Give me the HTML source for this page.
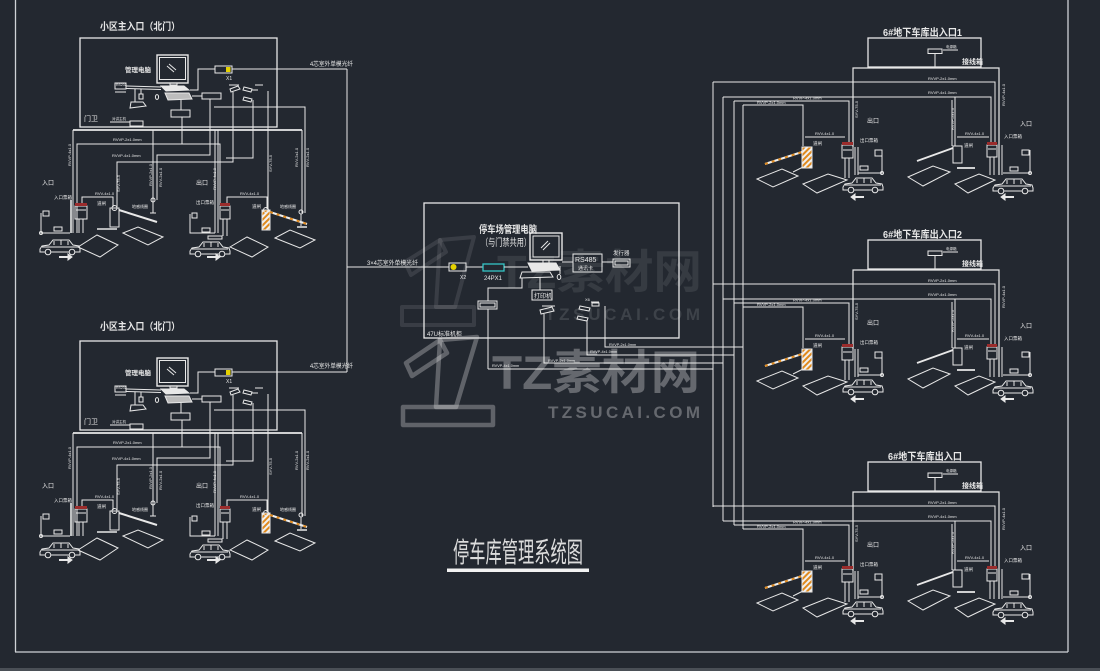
<!DOCTYPE html>
<html><head><meta charset="utf-8"><style>
html,body{margin:0;padding:0;background:#232830;width:1100px;height:671px;overflow:hidden}
svg{display:block}
text{font-family:"Liberation Sans","Noto Sans CJK SC",sans-serif;fill:#e8e8e8}
</style></head><body>
<svg width="1100" height="671" viewBox="0 0 1100 671" xmlns="http://www.w3.org/2000/svg">
<defs>
<pattern id="st" width="4" height="4" patternUnits="userSpaceOnUse" patternTransform="rotate(45)">
<rect width="4" height="4" fill="#f0f0f0"/><rect width="2" height="4" fill="#e08a1e"/>
</pattern>
<g id="car" stroke="#e8e8e8" fill="none" stroke-width="1">
<path d="M0 9 L2 6 L9 5 L13 0 L29 0 L33 5 L39 6 L40 9 L40 12 L0 12 Z"/>
<line x1="14" y1="1" x2="14" y2="5"/><line x1="21" y1="0" x2="21" y2="5"/><line x1="28" y1="1" x2="28" y2="5"/>
<line x1="2" y1="7" x2="38" y2="7"/>
<circle cx="8" cy="12" r="2.8" fill="#232830"/><circle cx="32" cy="12" r="2.8" fill="#232830"/>
</g>
<!-- left block shapes -->
<g id="LB" stroke="#e8e8e8" fill="none" stroke-width="1">
<rect x="80" y="38" width="197" height="89" stroke-width="1.3"/>
<rect x="157" y="55" width="31" height="28" stroke-width="1.4"/>
<rect x="159.5" y="57.5" width="26" height="22"/>
<line x1="167" y1="66" x2="174" y2="72"/><line x1="169" y1="64" x2="176" y2="70"/>
<rect x="170" y="83" width="7" height="2"/>
<path d="M161 86 L184 86 L189 90 L166 91 Z" fill="#e8e8e8"/>
<path d="M165 93 L189 93 L192 99 L168 100 Z" fill="#bdbdbd"/>
<line x1="126" y1="86" x2="161" y2="87"/><line x1="126" y1="88.5" x2="161" y2="89.5"/>
<rect x="115" y="83" width="11" height="6"/>
<line x1="115" y1="92" x2="126" y2="92"/>
<line x1="141" y1="89" x2="141" y2="94"/><rect x="139" y="94" width="4" height="5"/>
<path d="M131 102 L143 102 L146 106 L130 108 Z"/>
<line x1="135" y1="89" x2="135" y2="102"/>
<ellipse cx="157" cy="97" rx="1.6" ry="2.4"/>
<rect x="215" y="66" width="17" height="7"/>
<rect x="226" y="67" width="4.5" height="5" fill="#e6d200" stroke="none"/>
<polyline points="215,69 198,69 198,90 190,90"/>
<rect x="202" y="93" width="19" height="6"/>
<line x1="192" y1="96" x2="202" y2="96"/>
<rect x="171" y="110" width="19" height="7"/>
<line x1="181" y1="100" x2="181" y2="110"/>
<path d="M230 89 L238 86 L240 89 L231 92 Z"/>
<line x1="229" y1="85" x2="239" y2="85"/>
<path d="M244 87 L252 89 L251 92 L243 90 Z"/><line x1="252" y1="90" x2="258" y2="90"/>
<line x1="255" y1="85" x2="263" y2="85"/>
<path d="M244 97 L252 99 L251 102 L243 100 Z"/>
<rect x="130" y="121" width="13" height="5"/><line x1="110" y1="122" x2="130" y2="122"/>
<line x1="73" y1="130" x2="302" y2="130" stroke-width="1.8"/>
<line x1="73" y1="130" x2="73" y2="233"/>
<polyline points="77,233 77,144 220,144 220,205"/>
<line x1="182" y1="117" x2="182" y2="144"/>
<line x1="153" y1="130" x2="153" y2="213"/>
<polyline points="210,99 210,155 157,155 157,200"/>
<polyline points="117,207 117,162 233,162 233,92"/>
<line x1="215" y1="130" x2="215" y2="233"/><line x1="218" y1="130" x2="218" y2="233"/>
<polyline points="253,100 253,158 226,158"/>
<line x1="268" y1="91" x2="268" y2="210"/>
<polyline points="214,107 305,107 305,213"/>
<line x1="302" y1="130" x2="302" y2="213"/>
<polyline points="82,205 82,197 113,197 113,207"/>
<polyline points="227,205 227,197 267,197 267,209"/>
<!-- entry -->
<rect x="75" y="206" width="12" height="13"/>
<rect x="75" y="203" width="12" height="3" fill="#9b2c2c" stroke="none"/>
<line x1="76" y1="210" x2="86" y2="210"/>
<line x1="79" y1="219" x2="79" y2="233"/><line x1="83" y1="219" x2="83" y2="233"/>
<line x1="71" y1="200" x2="71" y2="233" stroke-width="1.6"/>
<rect x="43" y="211" width="6" height="5"/>
<polyline points="41,213 41,233 70,233"/>
<rect x="54" y="227" width="8" height="4"/>
<circle cx="41" cy="233" r="1.5"/>
<line x1="59" y1="257" x2="68" y2="257" stroke-width="2"/><path d="M68 254 L72 257 L68 260 Z" fill="#e8e8e8"/>
<rect x="110" y="208" width="9" height="19"/>
<circle cx="114.5" cy="208" r="2.5"/>
<line x1="119" y1="210" x2="157" y2="222" stroke-width="2"/>
<polygon points="78,247 97,235 118,245 100,257"/>
<polygon points="123,233 138,227 163,237 148,245"/>
<line x1="97" y1="229" x2="117" y2="229" stroke-width="1.5"/>
<circle cx="153" cy="200" r="2"/><line x1="150" y1="213" x2="156" y2="213"/>
<!-- exit -->
<rect x="220" y="206" width="10" height="13"/>
<rect x="220" y="203" width="10" height="3" fill="#9b2c2c" stroke="none"/>
<line x1="221" y1="210" x2="229" y2="210"/>
<line x1="223" y1="219" x2="223" y2="236"/><line x1="227" y1="219" x2="227" y2="236"/>
<rect x="262" y="210" width="8" height="20" fill="url(#st)"/>
<circle cx="266" cy="210" r="2.5"/>
<line x1="270" y1="212" x2="307" y2="224" stroke="#f0f0f0" stroke-width="2"/>
<line x1="270" y1="212" x2="307" y2="224" stroke="#e08a1e" stroke-width="2" stroke-dasharray="3 4"/>
<circle cx="301" cy="212" r="2"/><line x1="301" y1="214" x2="301" y2="226"/><line x1="297" y1="227" x2="307" y2="227" stroke-width="1.5"/>
<rect x="192" y="213" width="5" height="5"/>
<polyline points="190,214 190,233 215,233"/>
<rect x="202" y="228" width="8" height="4"/>
<line x1="207" y1="257" x2="216" y2="257" stroke-width="2"/><path d="M216 254 L220 257 L216 260 Z" fill="#e8e8e8"/>
<polygon points="230,247 247,237 268,247 252,257"/>
<polygon points="275,238 290,230 315,240 300,248"/>
<rect x="208" y="236" width="14" height="3"/>
</g>
<!-- right block shapes -->
<g id="RB" stroke="#e8e8e8" fill="none" stroke-width="1">
<rect x="868" y="38" width="113" height="29" stroke-width="1.3"/>
<rect x="928" y="49" width="14" height="4.5"/>
<line x1="943" y1="50" x2="958" y2="50"/>
<line x1="935" y1="53.5" x2="935" y2="67"/>
<polyline points="853,147 853,68 999,68 999,175" stroke-width="1.2"/>
<polyline points="713,82 995,82 995,142"/>
<polyline points="723,97 991,97 991,142"/>
<line x1="955" y1="97" x2="955" y2="146"/>
<line x1="952" y1="100" x2="952" y2="146"/>
<polyline points="734,101 849,101 849,142"/>
<polyline points="743,105 803,105 803,146"/>
<line x1="805" y1="137" x2="845" y2="137"/>
<line x1="957" y1="137" x2="989" y2="137"/>
<!-- exit -->
<rect x="802" y="147" width="10" height="21" fill="url(#st)"/>
<line x1="765" y1="164" x2="802" y2="152" stroke="#f0f0f0" stroke-width="2"/>
<line x1="765" y1="164" x2="802" y2="152" stroke="#e08a1e" stroke-width="2" stroke-dasharray="3 4"/>
<polygon points="757,179 782,169 798,176 773,187"/>
<polygon points="803,184 828,174 847,180 817,193"/>
<line x1="793" y1="172" x2="803" y2="167"/>
<rect x="842" y="145" width="11" height="13"/>
<rect x="842" y="142" width="11" height="3" fill="#9b2c2c" stroke="none"/>
<line x1="843" y1="150" x2="852" y2="150"/>
<line x1="845" y1="158" x2="845" y2="178"/><line x1="849" y1="158" x2="849" y2="178"/>
<line x1="855" y1="147" x2="855" y2="175"/><line x1="858" y1="147" x2="858" y2="175"/>
<rect x="875" y="150" width="7" height="6"/>
<polyline points="882,150 882,173 858,173"/>
<circle cx="882" cy="173" r="1.5"/>
<rect x="860" y="166" width="8" height="4"/>
<line x1="855" y1="197" x2="864" y2="197" stroke-width="2"/><path d="M855 194 L851 197 L855 200 Z" fill="#e8e8e8"/>
<!-- entry -->
<rect x="953" y="146" width="9" height="17"/>
<line x1="917" y1="161" x2="953" y2="148" stroke-width="1.8"/>
<line x1="957" y1="168" x2="975" y2="168" stroke-width="1.8"/>
<polygon points="908,177 933,166 950,172 923,186"/>
<polygon points="955,184 979,174 995,180 968,193"/>
<rect x="987" y="145" width="10" height="12"/>
<rect x="987" y="142" width="10" height="3" fill="#9b2c2c" stroke="none"/>
<line x1="988" y1="149" x2="996" y2="149"/>
<line x1="990" y1="157" x2="990" y2="175"/><line x1="994" y1="157" x2="994" y2="175"/>
<line x1="1002" y1="145" x2="1002" y2="175"/>
<rect x="1022" y="150" width="7" height="5"/>
<polyline points="1030,150 1030,173 1003,173"/>
<circle cx="1030" cy="173" r="1.5"/>
<rect x="1010" y="167" width="8" height="4"/>
<line x1="1005" y1="197" x2="1014" y2="197" stroke-width="2"/><path d="M1005 194 L1001 197 L1005 200 Z" fill="#e8e8e8"/>
</g>
</defs>

<!-- frame -->
<g stroke="#cfd2d6" fill="none" stroke-width="1.3">
<line x1="15.5" y1="0" x2="15.5" y2="652"/>
<line x1="15" y1="652" x2="1068" y2="652"/>
<line x1="1068" y1="0" x2="1068" y2="652"/>
</g>
<rect x="0" y="668" width="1100" height="3" fill="#4a4f56"/>

<!-- watermark -->
<g fill="none" stroke="#ffffff" stroke-opacity="0.1" stroke-width="4" stroke-linejoin="round">
<rect x="402" y="307" width="72" height="18"/>
<polygon points="440,240 474,237 455,307 436,307"/>
<polygon points="405,262 440,240 446,252 411,275"/>
</g>
<g fill="none" stroke="#ffffff" stroke-opacity="0.28" stroke-width="4.5" stroke-linejoin="round">
<rect x="403" y="407" width="90" height="18"/>
<polygon points="440,340 477,337 456,407 436,407"/>
<polygon points="406,363 440,340 447,353 412,376"/>
</g>
<text x="497" y="288" font-size="46" font-weight="bold" textLength="205" lengthAdjust="spacingAndGlyphs" style="fill:rgba(255,255,255,0.09)">TZ素材网</text>
<text x="545" y="320" font-size="17" font-weight="bold" textLength="155" lengthAdjust="spacing" style="fill:rgba(255,255,255,0.12)">TZSUCAI.COM</text>

<!-- left blocks -->
<use href="#LB"/>
<use href="#LB" y="303"/>
<g stroke="#e8e8e8" fill="none" stroke-width="1">
<line x1="232" y1="69" x2="347" y2="69"/>
<line x1="232" y1="372" x2="347" y2="372"/>
<line x1="347" y1="69" x2="347" y2="372"/>
<line x1="347" y1="267" x2="449" y2="267"/>
</g>

<!-- left block texts -->
<g id="LT1">
<text x="100" y="30" font-size="10" font-weight="bold" textLength="80" lengthAdjust="spacingAndGlyphs">小区主入口（北门）</text>
<text x="125" y="72" font-size="6.5" font-weight="bold">管理电脑</text>
<text x="226" y="80" font-size="5">X1</text>
<text x="84" y="121" font-size="7">门卫</text>
<text x="42" y="185" font-size="6">入口</text>
<text x="54" y="199" font-size="4.5">入口票箱</text>
<text x="97" y="205" font-size="4.5">道闸</text>
<text x="196" y="185" font-size="6">出口</text>
<text x="196" y="204" font-size="4.5">出口票箱</text>
<text x="252" y="208" font-size="4.5">道闸</text>
<text x="132" y="208" font-size="4">地感线圈</text>
<text x="280" y="208" font-size="4">地感线圈</text>
<text x="113" y="141" font-size="4">RVVP-2x1.0mm</text>
<text x="112" y="157" font-size="4">RVVP-4x1.0mm</text>
<text x="95" y="195" font-size="4">RVV-4x1.0</text>
<text x="240" y="195" font-size="4">RVV-4x1.0</text>
<text x="116" y="86" font-size="3.5">RS232</text>
<text x="112" y="120" font-size="3.5">对讲主机</text>
<g font-size="4">
<text transform="translate(71,166) rotate(-90)">RVVP-4x1.0</text>
<text transform="translate(120,192) rotate(-90)">SYV-75-5</text>
<text transform="translate(152,186) rotate(-90)">RVVP-2x1.0</text>
<text transform="translate(162,187) rotate(-90)">RVV-2x1.0</text>
<text transform="translate(216,190) rotate(-90)">RVVP-4x1.0</text>
<text transform="translate(272,172) rotate(-90)">SYV-75-5</text>
<text transform="translate(298,167) rotate(-90)">RVV-2x1.0</text>
<text transform="translate(309,167) rotate(-90)">RVV-2x1.0</text>
</g>
</g>
<g transform="translate(0,303)">
<text x="100" y="27" font-size="10" font-weight="bold" textLength="80" lengthAdjust="spacingAndGlyphs">小区主入口（北门）</text>
<text x="125" y="72" font-size="6.5" font-weight="bold">管理电脑</text>
<text x="226" y="80" font-size="5">X1</text>
<text x="84" y="121" font-size="7">门卫</text>
<text x="42" y="185" font-size="6">入口</text>
<text x="54" y="199" font-size="4.5">入口票箱</text>
<text x="97" y="205" font-size="4.5">道闸</text>
<text x="196" y="185" font-size="6">出口</text>
<text x="196" y="204" font-size="4.5">出口票箱</text>
<text x="252" y="208" font-size="4.5">道闸</text>
<text x="132" y="208" font-size="4">地感线圈</text>
<text x="280" y="208" font-size="4">地感线圈</text>
<text x="113" y="141" font-size="4">RVVP-2x1.0mm</text>
<text x="112" y="157" font-size="4">RVVP-4x1.0mm</text>
<text x="95" y="195" font-size="4">RVV-4x1.0</text>
<text x="240" y="195" font-size="4">RVV-4x1.0</text>
<text x="116" y="86" font-size="3.5">RS232</text>
<text x="112" y="120" font-size="3.5">对讲主机</text>
<g font-size="4">
<text transform="translate(71,166) rotate(-90)">RVVP-4x1.0</text>
<text transform="translate(120,192) rotate(-90)">SYV-75-5</text>
<text transform="translate(152,186) rotate(-90)">RVVP-2x1.0</text>
<text transform="translate(162,187) rotate(-90)">RVV-2x1.0</text>
<text transform="translate(216,190) rotate(-90)">RVVP-4x1.0</text>
<text transform="translate(272,172) rotate(-90)">SYV-75-5</text>
<text transform="translate(298,167) rotate(-90)">RVV-2x1.0</text>
<text transform="translate(309,167) rotate(-90)">RVV-2x1.0</text>
</g>
</g>
<text x="310" y="66" font-size="6" textLength="43" lengthAdjust="spacingAndGlyphs">4芯室外单模光纤</text>
<text x="310" y="368" font-size="6" textLength="43" lengthAdjust="spacingAndGlyphs">4芯室外单模光纤</text>
<text x="367" y="265" font-size="6" textLength="51" lengthAdjust="spacingAndGlyphs">3×4芯室外单模光纤</text>

<!-- cars left -->
<use href="#car" x="40" y="240"/>
<use href="#car" x="190" y="242"/>
<use href="#car" x="40" y="543"/>
<use href="#car" x="190" y="545"/>

<!-- center block -->
<g stroke="#e8e8e8" fill="none" stroke-width="1">
<rect x="424" y="203" width="255" height="135" stroke-width="1.3"/>
<rect x="530" y="233" width="32" height="27" stroke-width="1.4"/>
<rect x="533" y="236" width="26" height="21"/>
<line x1="541" y1="248" x2="548" y2="241"/><line x1="543" y1="250" x2="550" y2="243"/>
<rect x="543" y="260" width="6" height="3"/>
<path d="M528 263 L556 263 L560 270 L532 271 Z" fill="#e8e8e8"/>
<path d="M522 272 L550 272 L553 277 L520 278 Z"/>
<ellipse cx="559" cy="277" rx="1.8" ry="2.5"/>
<line x1="560" y1="266" x2="560" y2="274"/>
<rect x="573" y="254" width="29" height="18"/>
<line x1="562" y1="262" x2="573" y2="262"/>
<line x1="602" y1="262" x2="613" y2="262"/>
<rect x="613" y="259" width="17" height="8"/>
<rect x="615" y="261" width="13" height="4"/>
<rect x="449" y="263" width="17" height="8"/>
<circle cx="453.5" cy="267" r="3" fill="#e6d200" stroke="none"/>
<line x1="466" y1="267" x2="483" y2="267"/>
<rect x="483" y="264" width="21" height="7" stroke="#35c6c6" stroke-width="1.3"/>
<line x1="504" y1="267" x2="528" y2="267"/>
<polyline points="488,301 488,288 522,288 522,278"/>
<line x1="540" y1="277" x2="540" y2="290"/>
<rect x="532" y="290" width="20" height="10"/>
<rect x="478" y="301" width="19" height="8"/>
<rect x="480" y="303" width="15" height="4"/>
<line x1="488" y1="309" x2="488" y2="369"/>
<polyline points="488,369 713,369"/>
<path d="M540 310 L552 307 L554 311 L541 314 Z"/>
<line x1="542" y1="306" x2="555" y2="306"/>
<polyline points="544,314 544,363 723,363"/>
<path d="M580 306 L590 308 L589 311 L579 309 Z"/>
<line x1="591" y1="302" x2="599" y2="302"/><rect x="592" y="303" width="7" height="3"/>
<path d="M578 316 L588 318 L587 321 L577 319 Z"/>
<polyline points="587,320 587,355 734,355"/>
<polyline points="605,306 605,347 743,347"/>
<line x1="713" y1="82" x2="713" y2="507"/>
<line x1="723" y1="97" x2="723" y2="521"/>
<line x1="734" y1="101" x2="734" y2="525"/>
<line x1="743" y1="105" x2="743" y2="529"/>
</g>
<text x="479" y="233" font-size="10" font-weight="bold" textLength="58" lengthAdjust="spacingAndGlyphs">停车场管理电脑</text>
<text x="481" y="246" font-size="10" textLength="50" lengthAdjust="spacingAndGlyphs">（与门禁共用）</text>
<text x="575" y="262" font-size="7">RS485</text>
<text x="578" y="270" font-size="5">通讯卡</text>
<text x="613" y="255" font-size="5.5">发行器</text>
<text x="460" y="279" font-size="5">X2</text>
<text x="484" y="280" font-size="6">24PX1</text>
<text x="534" y="298" font-size="6">打印机</text>
<text x="585" y="301" font-size="4">X6</text>
<text x="427" y="336" font-size="6">47U标准机柜</text>
<text x="609" y="346" font-size="3.8">RVVP-2x1.0mm</text>
<text x="590" y="353" font-size="3.8">RVVP-4x1.0mm</text>
<text x="548" y="362" font-size="3.8">RVVP-2x1.0mm</text>
<text x="492" y="367" font-size="3.8">RVVP-4x1.0mm</text>

<!-- right blocks -->
<use href="#RB"/>
<use href="#RB" y="202"/>
<use href="#RB" y="424"/>
<use href="#car" x="843" y="178"/>
<use href="#car" x="993" y="179"/>
<use href="#car" x="843" y="380"/>
<use href="#car" x="993" y="381"/>
<use href="#car" x="843" y="602"/>
<use href="#car" x="993" y="603"/>

<g>
<text x="883" y="36" font-size="10" font-weight="bold" textLength="79" lengthAdjust="spacingAndGlyphs">6#地下车库出入口1</text>
<text x="883" y="238" font-size="10" font-weight="bold" textLength="79" lengthAdjust="spacingAndGlyphs">6#地下车库出入口2</text>
<text x="888" y="460" font-size="10" font-weight="bold" textLength="74" lengthAdjust="spacingAndGlyphs">6#地下车库出入口</text>
</g>
<g id="RT1">
<text x="962" y="64" font-size="7" font-weight="bold">接线箱</text>
<text x="867" y="123" font-size="6">出口</text>
<text x="860" y="142" font-size="4.5">出口票箱</text>
<text x="813" y="145" font-size="4.5">道闸</text>
<text x="1020" y="126" font-size="6">入口</text>
<text x="1004" y="138" font-size="4.5">入口票箱</text>
<text x="964" y="147" font-size="4.5">道闸</text>
<text x="928" y="80" font-size="4">RVVP-2x1.0mm</text>
<text x="928" y="94" font-size="4">RVVP-4x1.0mm</text>
<text x="793" y="99.5" font-size="4">RVVP-4x1.0mm</text>
<text x="757" y="104" font-size="4">RVVP-2x1.0mm</text>
<text x="815" y="135" font-size="4">RVV-4x1.0</text>
<text x="965" y="135" font-size="4">RVV-4x1.0</text>
<text x="946" y="48" font-size="3.5">电源箱</text>
<g font-size="4">
<text transform="translate(1005,106) rotate(-90)">RVVP-4x1.0</text>
<text transform="translate(858,118) rotate(-90)">SYV-75-5</text>
<text transform="translate(954,130) rotate(-90)">RVVP-2x1.0</text>
</g>
</g>
<g transform="translate(0,202)">
<text x="962" y="64" font-size="7" font-weight="bold">接线箱</text>
<text x="867" y="123" font-size="6">出口</text>
<text x="860" y="142" font-size="4.5">出口票箱</text>
<text x="813" y="145" font-size="4.5">道闸</text>
<text x="1020" y="126" font-size="6">入口</text>
<text x="1004" y="138" font-size="4.5">入口票箱</text>
<text x="964" y="147" font-size="4.5">道闸</text>
<text x="928" y="80" font-size="4">RVVP-2x1.0mm</text>
<text x="928" y="94" font-size="4">RVVP-4x1.0mm</text>
<text x="793" y="99.5" font-size="4">RVVP-4x1.0mm</text>
<text x="757" y="104" font-size="4">RVVP-2x1.0mm</text>
<text x="815" y="135" font-size="4">RVV-4x1.0</text>
<text x="965" y="135" font-size="4">RVV-4x1.0</text>
<text x="946" y="48" font-size="3.5">电源箱</text>
<g font-size="4">
<text transform="translate(1005,106) rotate(-90)">RVVP-4x1.0</text>
<text transform="translate(858,118) rotate(-90)">SYV-75-5</text>
<text transform="translate(954,130) rotate(-90)">RVVP-2x1.0</text>
</g>
</g>
<g transform="translate(0,424)">
<text x="962" y="64" font-size="7" font-weight="bold">接线箱</text>
<text x="867" y="123" font-size="6">出口</text>
<text x="860" y="142" font-size="4.5">出口票箱</text>
<text x="813" y="145" font-size="4.5">道闸</text>
<text x="1020" y="126" font-size="6">入口</text>
<text x="1004" y="138" font-size="4.5">入口票箱</text>
<text x="964" y="147" font-size="4.5">道闸</text>
<text x="928" y="80" font-size="4">RVVP-2x1.0mm</text>
<text x="928" y="94" font-size="4">RVVP-4x1.0mm</text>
<text x="793" y="99.5" font-size="4">RVVP-4x1.0mm</text>
<text x="757" y="104" font-size="4">RVVP-2x1.0mm</text>
<text x="815" y="135" font-size="4">RVV-4x1.0</text>
<text x="965" y="135" font-size="4">RVV-4x1.0</text>
<text x="946" y="48" font-size="3.5">电源箱</text>
<g font-size="4">
<text transform="translate(1005,106) rotate(-90)">RVVP-4x1.0</text>
<text transform="translate(858,118) rotate(-90)">SYV-75-5</text>
<text transform="translate(954,130) rotate(-90)">RVVP-2x1.0</text>
</g>
</g>

<!-- title -->
<text x="453" y="562" font-size="28" textLength="130" lengthAdjust="spacingAndGlyphs" style="fill:#dcdcdc">停车库管理系统图</text>
<rect x="447" y="568.5" width="142" height="3.5" fill="#f2f2f2"/>

<!-- foreground watermark -->
<text x="492" y="389" font-size="47" font-weight="bold" textLength="208" lengthAdjust="spacingAndGlyphs" style="fill:rgba(255,255,255,0.30)">TZ素材网</text>
<text x="548" y="418" font-size="17" font-weight="bold" textLength="152" lengthAdjust="spacing" style="fill:rgba(255,255,255,0.30)">TZSUCAI.COM</text>
</svg>
</body></html>
